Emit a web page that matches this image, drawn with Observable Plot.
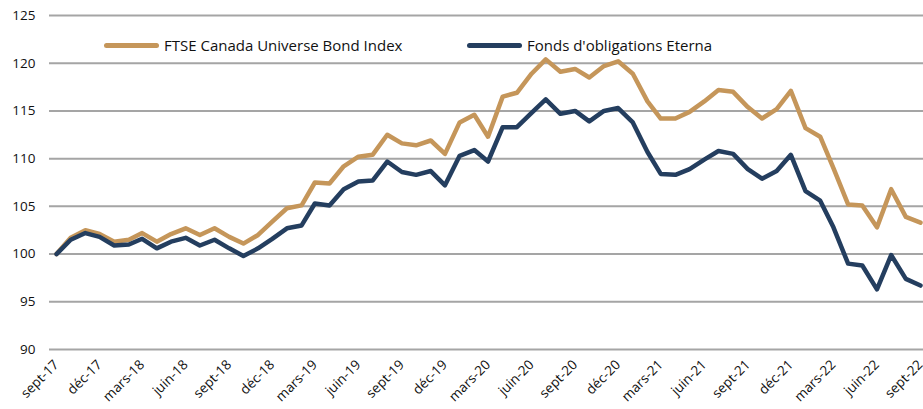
<!DOCTYPE html>
<html>
<head>
<meta charset="utf-8">
<script src="https://cdn.jsdelivr.net/npm/d3@7"></script>
<script src="https://cdn.jsdelivr.net/npm/@observablehq/plot@0.6"></script>
<style>
  html, body { margin: 0; padding: 0; background: #fff; }
  #wrap { position: relative; width: 923px; height: 409px; font-family: "Open Sans", sans-serif; }
  .legend { position: absolute; top: 35px; left: 0; font-size: 15px; color: #111; }
  .item { position: absolute; display: flex; align-items: center; white-space: nowrap; }
  .sw { display: inline-block; width: 55px; height: 5px; border-radius: 3px; margin-right: 5px; }
</style>
</head>
<body>
<div id="wrap"></div>
<script>
const startMonth = "2017-09-01";
const endMonth = "2022-09-01";
const seriesNames = ["FTSE Canada Universe Bond Index", "Fonds d'obligations Eterna"];
const seriesColors = ["#C5965A", "#243E5F"];
const ftse = [100, 101.7, 102.5, 102.1, 101.3, 101.5, 102.2, 101.3, 102.1, 102.7,
  102.0, 102.7, 101.8, 101.1, 102.0, 103.4, 104.8, 105.1, 107.5, 107.4,
  109.2, 110.2, 110.4, 112.5, 111.6, 111.4, 111.9, 110.5, 113.8, 114.6,
  112.3, 116.5, 116.9, 118.9, 120.4, 119.1, 119.4, 118.5, 119.7, 120.2,
  118.9, 116.0, 114.2, 114.2, 114.9, 116.0, 117.2, 117.0, 115.4, 114.2,
  115.2, 117.1, 113.2, 112.3, 109.0, 105.2, 105.1, 102.8, 106.8, 103.9, 103.3];
const eterna = [100, 101.5, 102.2, 101.8, 100.9, 101.0, 101.6, 100.6, 101.3, 101.7,
  100.9, 101.5, 100.6, 99.8, 100.6, 101.6, 102.7, 103.0, 105.3, 105.1,
  106.8, 107.6, 107.7, 109.7, 108.6, 108.3, 108.7, 107.2, 110.3, 110.9,
  109.7, 113.3, 113.3, 114.8, 116.2, 114.7, 115.0, 113.9, 115.0, 115.3,
  113.8, 110.7, 108.4, 108.3, 108.9, 109.9, 110.8, 110.5, 108.9, 107.9,
  108.7, 110.4, 106.6, 105.6, 102.8, 99.0, 98.8, 96.3, 99.9, 97.4, 96.7];
const yTicks = [90, 95, 100, 105, 110, 115, 120, 125];
const monthLabels = ["janv", "févr", "mars", "avr", "mai", "juin", "juil", "août", "sept", "oct", "nov", "déc"];

const dates = d3.utcMonth.range(new Date(startMonth), d3.utcMonth.offset(new Date(endMonth), 1));
const rows = [];
dates.forEach((d, i) => {
  rows.push({date: d, value: ftse[i], series: seriesNames[0]});
  rows.push({date: d, value: eterna[i], series: seriesNames[1]});
});
const xTicks = dates.filter((d, i) => i % 3 === 0);
const fmt = d => monthLabels[d.getUTCMonth()] + "-" + String(d.getUTCFullYear()).slice(2);

const chart = Plot.plot({
  width: 923,
  height: 409,
  marginLeft: 49,
  marginRight: 0,
  marginTop: 15,
  marginBottom: 60,
  style: {fontFamily: "Open Sans, sans-serif", fontSize: "13px", color: "#111", background: "#fff", overflow: "visible"},
  x: {type: "utc", domain: [dates[0], dates[dates.length - 1]], range: [56, 920]},
  y: {domain: [90, 125]},
  color: {domain: seriesNames, range: seriesColors},
  marks: [
    Plot.ruleY(yTicks, {stroke: "#A5A5A5", strokeWidth: 2}),
    Plot.axisY({ticks: yTicks, tickSize: 0, tickPadding: 14, label: null, fontSize: 13.5}),
    Plot.axisX({ticks: xTicks, tickFormat: fmt, tickSize: 0, tickRotate: -45, tickPadding: 13, label: null, textAnchor: "end", fontSize: 13.5}),
    Plot.line(rows, {x: "date", y: "value", z: "series", stroke: "series", strokeWidth: 4.5, strokeLinejoin: "round", strokeLinecap: "round"})
  ]
});

const wrap = document.getElementById("wrap");
wrap.appendChild(chart);
const legend = document.createElement("div");
legend.className = "legend";
const lefts = [104, 467];
seriesNames.forEach((name, i) => {
  const it = document.createElement("div");
  it.className = "item";
  it.style.left = lefts[i] + "px";
  it.innerHTML = `<span class="sw" style="background:${seriesColors[i]}"></span><span>${name}</span>`;
  legend.appendChild(it);
});
wrap.appendChild(legend);
</script>
</body>
</html>
